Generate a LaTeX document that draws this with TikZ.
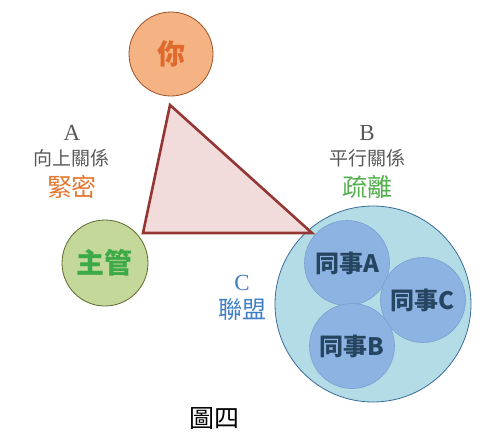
\documentclass[tikz,border=0pt]{standalone}
\usepackage{fontspec}
\setmainfont{Liberation Serif}
\newfontfamily\cjk{Noto Sans CJK TC}
\usepackage{xcolor}
\usetikzlibrary{positioning}

\definecolor{youfill}{HTML}{F5B282}
\definecolor{youline}{HTML}{9A5225}
\definecolor{youtext}{HTML}{E06A2C}
\definecolor{bossfill}{HTML}{C4D89A}
\definecolor{bossline}{HTML}{5E6B30}
\definecolor{bosstext}{HTML}{3DAA48}
\definecolor{groupfill}{HTML}{B4DCE6}
\definecolor{groupline}{HTML}{3A6D9A}
\definecolor{peerfill}{HTML}{8DB3E2}
\definecolor{peerline}{HTML}{7A9FD0}
\definecolor{peertext}{HTML}{254561}
\definecolor{trifill}{HTML}{F2DCDB}
\definecolor{triline}{HTML}{943634}
\definecolor{greytext}{HTML}{595959}
\definecolor{closetext}{HTML}{E5742F}
\definecolor{fartext}{HTML}{55B04E}
\definecolor{allytext}{HTML}{3F7FC6}

\tikzset{
  person/.style={draw, circle, inner sep=0pt, line width=0.8pt, font=\cjk\bfseries\fontsize{28}{30}\selectfont},
  peer/.style={draw=peerline, fill=peerfill, circle, inner sep=0pt, minimum size=85pt, line width=0.6pt, text=peertext, font=\cjk\bfseries\fontsize{24}{26}\selectfont},
  letter/.style={text=greytext, inner sep=0pt, font=\fontsize{23}{25}\selectfont},
  relation/.style={text=greytext, inner sep=0pt, font=\cjk\fontsize{19}{21}\selectfont},
  quality/.style={inner sep=0pt, font=\cjk\fontsize{25}{27}\selectfont}
}

\begin{document}
\begin{tikzpicture}[x=1pt, y=-1pt]
\useasboundingbox (0,0) rectangle (491,445);
% circles
\node[person, fill=youfill, draw=youline, text=youtext, minimum size=84pt] (you) at (171,54) {你};
\node[person, fill=bossfill, draw=bossline, text=bosstext, minimum size=86pt] (boss) at (105,263) {主管};
\node[draw=groupline, fill=groupfill, circle, minimum size=196pt, line width=0.8pt] (group) at (373,304) {};
\node[peer] (peerA) at (347,263) {同事A};
\node[peer] (peerC) at (423,300) {同事C};
\node[peer] (peerB) at (352,346) {同事B};
% triangle
\coordinate (top) at (170,105);
\coordinate (left) at (143,233);
\coordinate (right) at (312,233);
\draw[triline, fill=trifill, line width=2.6pt, line join=miter] (top) -- (left) -- (right) -- cycle;
% labels
\node[letter] (labA) at (72,133) {A};
\node[relation] (relA) at (72,158) {向上關係};
\node[quality, text=closetext] (close) at (72,187) {緊密};
\node[letter] (labB) at (367,133) {B};
\node[relation] (relB) at (367,158) {平行關係};
\node[quality, text=fartext] (far) at (367,187) {疏離};
\node[letter, text=allytext] (labC) at (242,283) {C};
\node[quality, text=allytext, font=\cjk\fontsize{24}{26}\selectfont] (ally) at (242,310) {聯盟};
\node[inner sep=0pt, font=\cjk\fontsize{25}{27}\selectfont] (caption) at (214,418) {圖四};
\end{tikzpicture}
\end{document}
